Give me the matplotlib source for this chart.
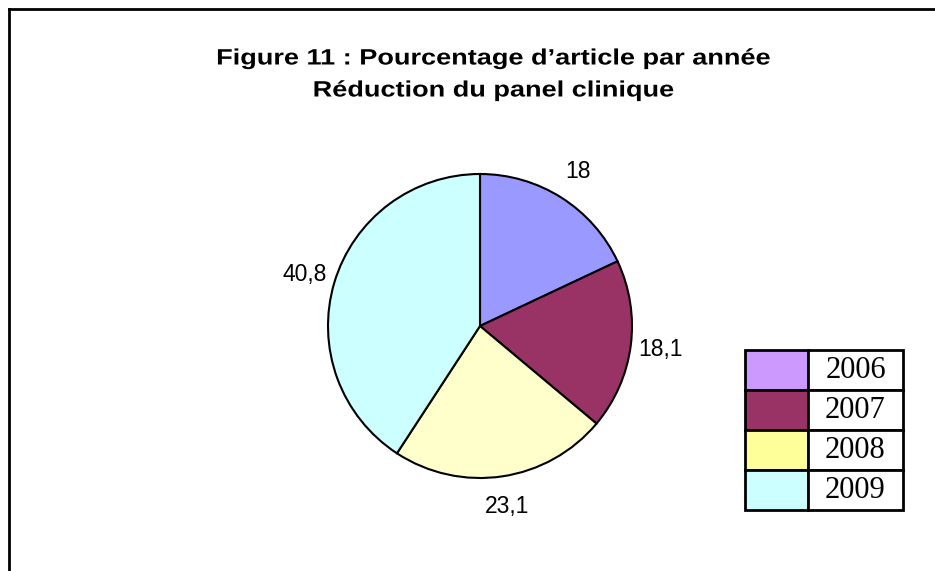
import matplotlib
matplotlib.use("Agg")
import matplotlib.pyplot as plt
from matplotlib.lines import Line2D
from matplotlib.patheffects import AbstractPathEffect
from matplotlib.transforms import Affine2D

years = ["2006", "2007", "2008", "2009"]
values = [18, 18.1, 23.1, 40.8]
slice_colors = ["#9999FF", "#993366", "#FFFFCC", "#CCFFFF"]
legend_colors = ["#CC99FF", "#993366", "#FFFF99", "#CCFFFF"]
title_line1 = "Figure 11 : Pourcentage d\u2019article par année"
title_line2 = "Réduction du panel clinique"

W, H = 935, 571
fig = plt.figure(figsize=(W / 100, H / 100), dpi=100)
fig.patch.set_facecolor("white")


def fx(px):
    return px / W


def fy(py):
    return 1 - py / H


class Stretch(AbstractPathEffect):
    """Stretch text horizontally around a display-space center."""

    def __init__(self, sx, sy, cx, cy):
        super().__init__()
        self.sx, self.sy, self.cx, self.cy = sx, sy, cx, cy

    def draw_path(self, renderer, gc, tpath, affine, rgbFace=None):
        t = affine + Affine2D().translate(-self.cx, -self.cy).scale(self.sx, self.sy).translate(self.cx, self.cy)
        renderer.draw_path(gc, tpath, t, rgbFace)


# frame (left and top edges)
fig.add_artist(Line2D([fx(9), fx(9)], [fy(9), 0], color="black", lw=2))
fig.add_artist(Line2D([fx(9), 1], [fy(9), fy(9)], color="black", lw=2))

# title
tcx = 493
for ypix, txt in [(59, title_line1), (91, title_line2)]:
    t = fig.text(fx(tcx), fy(ypix), txt, ha="center", va="center",
                 family="Liberation Sans", weight="bold", fontsize=16)
    t.set_path_effects([Stretch(1.22, 1.0, tcx, H - ypix)])

# pie
cx, cy, r = 480, 326, 152
ax = fig.add_axes([fx(cx - r), fy(cy + r), 2 * r / W, 2 * r / H])
labels = [str(v).replace(".", ",") if v != int(v) else str(int(v)) for v in values]
wedges, texts = ax.pie(values, colors=slice_colors, startangle=90, counterclock=False,
                       labels=labels, labeldistance=1.2,
                       wedgeprops=dict(edgecolor="black", linewidth=1.5),
                       textprops=dict(family="Liberation Sans", fontsize=16.5))
ax.set_xlim(-1, 1)
ax.set_ylim(-1, 1)
ax.set_aspect("auto")
ax.axis("off")
for t in texts:
    t.set_ha("center")
    t.set_va("center")

# legend table
lx0, lx1, lsplit, ly0, ly1 = 745, 903, 808, 350, 510
tax = fig.add_axes([fx(lx0), fy(ly1), (lx1 - lx0) / W, (ly1 - ly0) / H])
tax.axis("off")
cell_text = [["", y] for y in years]
cell_colors = [[c, "white"] for c in legend_colors]
tbl = tax.table(cellText=cell_text, cellColours=cell_colors, bbox=[0, 0, 1, 1],
                colWidths=[(lsplit - lx0) / (lx1 - lx0), (lx1 - lsplit) / (lx1 - lx0)])
tbl.auto_set_font_size(False)
for (row, col), cell in tbl.get_celld().items():
    cell.set_linewidth(2)
    cell.set_edgecolor("black")
    txt = cell.get_text()
    txt.set_fontfamily("Liberation Serif")
    txt.set_fontsize(22)
    txt.set_ha("center")
    cell._loc = "center"

fig.savefig("out.png", dpi=100)
